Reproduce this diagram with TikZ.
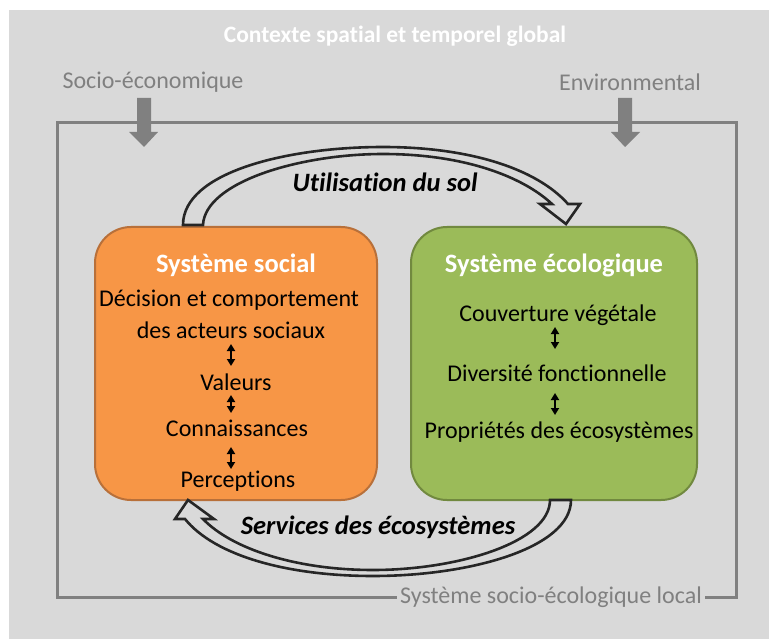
\documentclass[tikz,border=0pt]{standalone}
\usepackage{fontspec}
\setmainfont[Ligatures={NoCommon,NoDiscretionary,NoRare}]{Carlito}
\usetikzlibrary{arrows.meta}
\definecolor{bg}{HTML}{D9D9D9}
\definecolor{frame}{HTML}{808080}
\definecolor{orfill}{HTML}{F79646}
\definecolor{ordraw}{HTML}{B8703A}
\definecolor{grfill}{HTML}{9BBB59}
\definecolor{grdraw}{HTML}{71893F}
\definecolor{arrowline}{HTML}{262626}
\tikzset{
  box/.style={draw, line width=2pt, rounded corners=36pt},
  boxtitle/.style={text=white, font=\fontsize{26.5}{30}\selectfont\bfseries},
  boxtext/.style={text=black, font=\fontsize{24}{28}\selectfont, inner sep=0pt},
  graylabel/.style={text=frame, font=\fontsize{24}{28}\selectfont},
  flowlabel/.style={text=black, font=\fontsize{26.5}{30}\selectfont\bfseries\itshape},
  dbl/.style={line width=2pt, {Triangle[width=8pt,length=7pt]}-{Triangle[width=8pt,length=7pt]}},
  hollow/.style={draw=arrowline, line width=2.6pt, fill=bg, line join=miter},
  influx/.style={fill=frame, draw=none}
}
\begin{document}
\begin{tikzpicture}[x=1pt,y=-1pt]
\useasboundingbox (0,0) rectangle (769,639);
\fill[white] (0,0) rectangle (769,639);
\fill[bg] (9,10) rectangle (769,639);

% title
\node[text=white, font=\fontsize{23.5}{28}\selectfont\bfseries] (title) at (395,36) {Contexte spatial et temporel global};

% frame
\draw[frame, line width=3pt] (57,123) rectangle (736,597);
\node[graylabel, fill=bg, inner xsep=3pt, inner ysep=1pt] (local) at (551,597) {Système socio-écologique local};

% external drivers
\node[graylabel] (socio) at (153,82) {Socio-économique};
\node[graylabel] (env) at (630,82) {Environmental};
\fill[influx] (137,98) -- (151,98) -- (151,132) -- (158,132) -- (144,147) -- (129,132) -- (137,132) -- cycle;
\fill[influx] (618,98) -- (632,98) -- (632,132) -- (640,132) -- (625,147) -- (611,132) -- (618,132) -- cycle;

% boxes
\draw[box, draw=ordraw, fill=orfill] (95,227) rectangle (377,500);
\draw[box, draw=grdraw, fill=grfill] (411,227) rectangle (697,500);

% social system text
\node[boxtitle] (st) at (236,265) {Système social};
\node[boxtext] (dec1) at (229,300) {Décision et comportement};
\node[boxtext] (dec2) at (231,330) {des acteurs sociaux};
\node[boxtext] (val) at (236,382) {Valeurs};
\node[boxtext] (con) at (237,428) {Connaissances};
\node[boxtext] (per) at (238,481) {Perceptions};
\coordinate (a1t) at (231,344); \coordinate (a1b) at (231,366);
\coordinate (a2t) at (231,395); \coordinate (a2b) at (231,413);
\coordinate (a3t) at (231,447); \coordinate (a3b) at (231,469);
\draw[dbl] (a1t) -- (a1b);
\draw[dbl] (a2t) -- (a2b);
\draw[dbl] (a3t) -- (a3b);

% ecological system text
\node[boxtitle] (et) at (554,265) {Système écologique};
\node[boxtext] (cv) at (558,315) {Couverture végétale};
\node[boxtext] (df) at (557,373) {Diversité fonctionnelle};
\node[boxtext] (pe) at (559,432) {Propriétés des écosystèmes};
\coordinate (b1t) at (555,327); \coordinate (b1b) at (555,349);
\coordinate (b2t) at (555,393); \coordinate (b2b) at (555,415);
\draw[dbl] (b1t) -- (b1b);
\draw[dbl] (b2t) -- (b2b);

% top hollow arrow: land use
\draw[hollow] (183,225) -- (203,225)
  .. controls (205,182) and (300,154) .. (383,154)
  .. controls (463,154) and (522,176) .. (552,204)
  -- (540,204) -- (566,224) -- (580,204) -- (568,204)
  .. controls (536,168) and (468,147) .. (383,147)
  .. controls (288,147) and (183,172) .. (183,225) -- cycle;
\node[flowlabel] (lu) at (385,182) {Utilisation du sol};

% bottom hollow arrow: ecosystem services
\draw[hollow] (550,500) -- (571,500)
  .. controls (571,548) and (470,576) .. (373,576)
  .. controls (288,576) and (215,556) .. (185,519)
  -- (175,519) -- (188,500) -- (214,519) -- (203,519)
  .. controls (232,549) and (296,570) .. (373,570)
  .. controls (458,570) and (550,542) .. (550,500) -- cycle;
\node[flowlabel] (es) at (378,527) {Services des écosystèmes};
\end{tikzpicture}
\end{document}
